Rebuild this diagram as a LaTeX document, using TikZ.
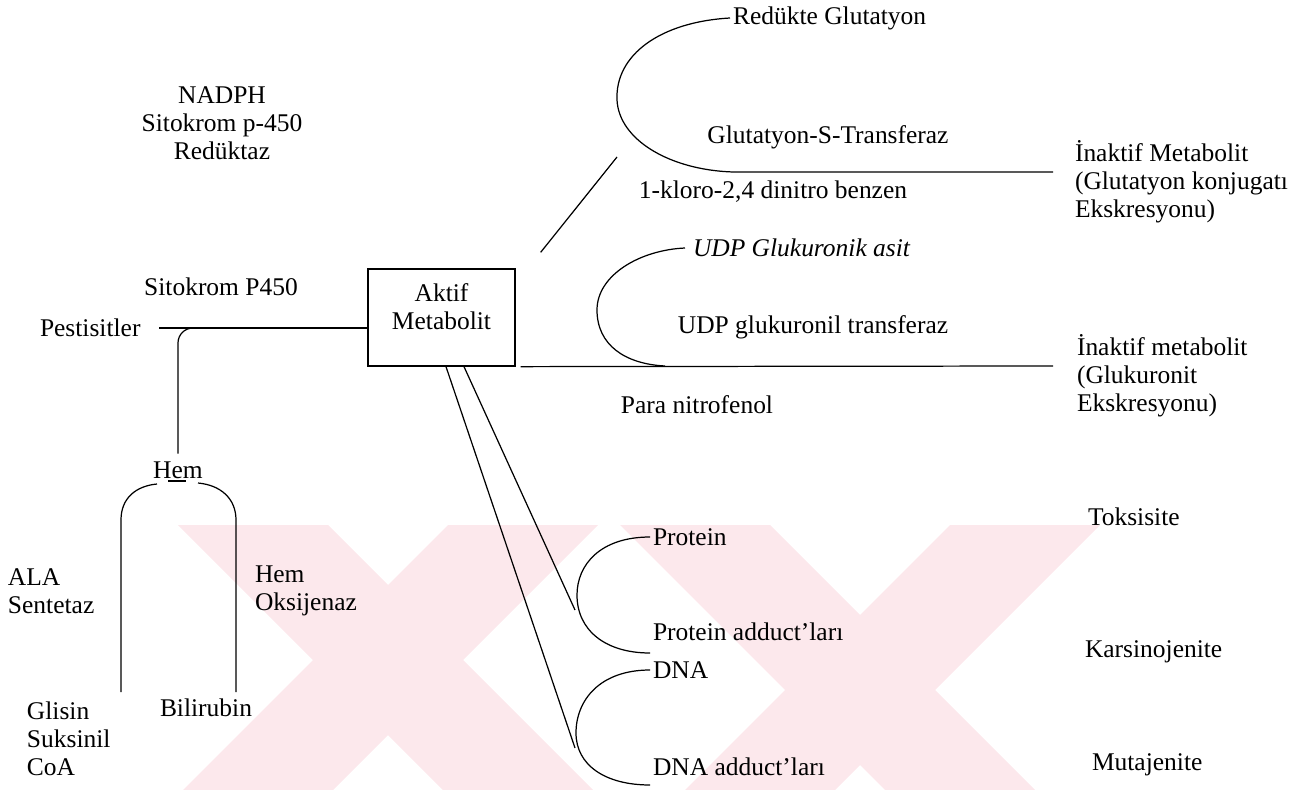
\documentclass[tikz,border=0pt]{standalone}
\usepackage{fontspec}
\setmainfont{Liberation Serif}
\usetikzlibrary{positioning}
\definecolor{wmpink}{RGB}{252,232,236}
\newcommand{\diafont}{\fontsize{14.5}{16}\selectfont}
\tikzset{
  lbl/.style    = {inner sep=0pt, outer sep=0pt, font=\diafont},
  multi/.style  = {lbl, align=left},
  metbox/.style = {rectangle, draw, line width=0.75pt, inner sep=0pt,
                   minimum width=2.94cm, minimum height=1.94cm},
  ln/.style     = {line width=0.7pt},
  wm/.style     = {fill=wmpink, draw=none}
}

\begin{document}
\begin{tikzpicture}[x=0.02cm, y=-0.02cm]
  \useasboundingbox (0,0) rectangle (1307,790);
  % faint background mark
  \begin{scope}
    \clip (172,525) rectangle (1135,790);
    \foreach \cx/\cy in {388/660, 860/690} {
      \fill[wm] (\cx-375,\cy-300) -- (\cx-225,\cy-300) -- (\cx+375,\cy+300) -- (\cx+225,\cy+300) -- cycle;
      \fill[wm] (\cx+225,\cy-300) -- (\cx+375,\cy-300) -- (\cx-225,\cy+300) -- (\cx-375,\cy+300) -- cycle;
    }
  \end{scope}

  % left part
  \node[multi, align=center] (nadph) at (222,123) {NADPH\\Sitokrom p-450\\Redüktaz};
  \node[lbl] (sito) at (221,287) {Sitokrom P450};
  \node[lbl, anchor=west] (pest) at (40,328) {Pestisitler};
  \node[metbox] (akt) at (441.5,317.5) {};
  \node[multi, align=center, below=0.3cm of akt.north] (akttxt) {Aktif\\Metabolit};
  \node[lbl] (hem) at (178,470) {Hem};
  \node[multi, anchor=west] (ala) at (8,591) {ALA\\Sentetaz};
  \node[multi, anchor=west] (hemox) at (255,591) {Hem\\Oksijenaz};
  \node[multi, anchor=west] (glisin) at (27,739) {Glisin\\Suksinil\\CoA};
  \node[lbl, anchor=west] (bili) at (160,708) {Bilirubin};

  % conjugation
  \node[lbl, anchor=west] (redgl) at (733,18) {Redükte Glutatyon};
  \node[lbl] (gst) at (828,137) {Glutatyon-S-Transferaz};
  \node[lbl] (kloro) at (773,192) {1-kloro-2,4 dinitro benzen};
  \node[multi, anchor=west] (inak1) at (1075,182) {İnaktif Metabolit\\(Glutatyon konjugatı\\Ekskresyonu)};
  \node[lbl, anchor=west, font=\diafont\itshape] (udpga) at (693,248) {UDP Glukuronik asit};
  \node[lbl] (ugt) at (813,327) {UDP glukuronil transferaz};
  \node[lbl] (pnf) at (697,405) {Para nitrofenol};
  \node[multi, anchor=west] (inak2) at (1077,376) {İnaktif metabolit\\(Glukuronit\\Ekskresyonu)};

  % adducts
  \node[lbl, anchor=west] (prot) at (653,537) {Protein};
  \node[lbl, anchor=west] (protadd) at (653,632) {Protein adduct’ları};
  \node[lbl, anchor=west] (dna) at (653,670) {DNA};
  \node[lbl, anchor=west] (dnaadd) at (653,767) {DNA adduct’ları};
  \node[lbl, anchor=west] (toks) at (1088,517) {Toksisite};
  \node[lbl, anchor=west] (kars) at (1085,652) {Karsinojenite};
  \node[lbl, anchor=west] (muta) at (1092,765) {Mutajenite};

  \coordinate (gsjoin) at (733,172);
  \coordinate (gsend) at (1053,172);
  \coordinate (gsleft) at (617,157);
  \coordinate (udpjoin) at (665,366);
  \coordinate (udpend) at (1053,366);
  \coordinate (prothit) at (575,610);
  \coordinate (dnahit) at (575,748);
  \coordinate (protfoot) at (650,653);
  \coordinate (dnafoot) at (650,785);
  \coordinate (alafoot) at (121,692);
  \coordinate (hemoxfoot) at (236,692);

  \draw[ln] ([xshift=0.38cm]pest.east) -- (pest.east -| akt.west);
  \draw[ln, rounded corners=0.3cm] ([xshift=1.05cm]pest.east) -| ([yshift=0.16cm]hem.north);
  \draw[ln] (alafoot) -- (121,520) .. controls (121,498) and (136,486) .. (157,484);
  \draw[ln] (168,481) -- (186,481);
  \draw[ln] (198,483) .. controls (220,485) and (236,498) .. (236,520) -- (hemoxfoot);

  \draw[ln] ([xshift=-0.06cm]redgl.west) .. controls (660,22) and (615,55) .. (617,100)
            .. controls (619,140) and (670,170) .. (gsjoin) -- (gsend);
  \draw[ln] ([shift={(0.5cm,0.32cm)}]akt.north east) -- (gsleft);
  \draw[ln] ([xshift=-0.16cm]udpga.west) .. controls (640,250) and (597,275) .. (597,310)
            .. controls (597,345) and (625,364) .. (udpjoin);
  \draw[ln] ([xshift=0.1cm]akt.south east) -- (udpend);

  \draw[ln] ([xshift=0.09cm]akt.south) -- (dnahit);
  \draw[ln] ([xshift=0.45cm]akt.south) -- (prothit);
  \draw[ln] ([xshift=-0.06cm]prot.west) .. controls (600,537) and (577,565) .. (577,595)
            .. controls (577,630) and (605,653) .. (protfoot);
  \draw[ln] ([xshift=-0.06cm]dna.west) .. controls (600,670) and (576,700) .. (576,733)
            .. controls (576,765) and (605,785) .. (dnafoot);
\end{tikzpicture}
\end{document}
